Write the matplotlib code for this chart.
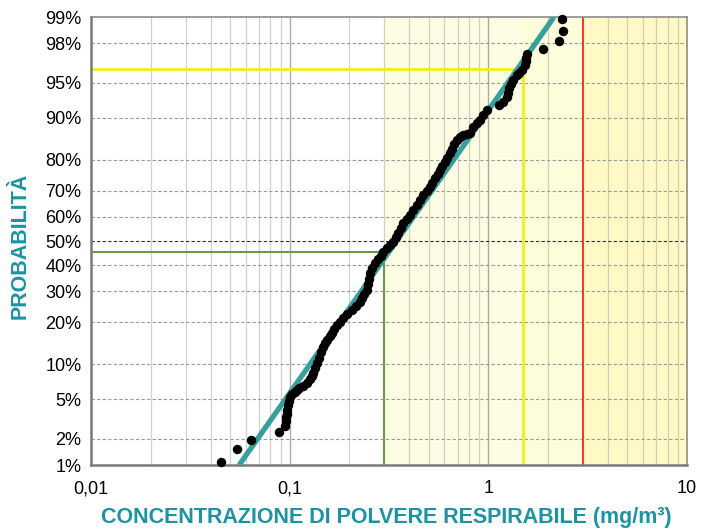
import numpy as np
import matplotlib
matplotlib.use("Agg")
import matplotlib.pyplot as plt
from statistics import NormalDist

plt.rcParams["font.family"] = ["Liberation Sans", "DejaVu Sans"]

# ---------------- data ----------------
x_ticks = [0.01, 0.1, 1, 10]
x_tick_labels = ["0,01", "0,1", "1", "10"]
p_ticks = [1, 2, 5, 10, 20, 30, 40, 50, 60, 70, 80, 90, 95, 98, 99]
p_tick_labels = [f"{p}%" for p in p_ticks]

# measured concentrations (mg/m3) and cumulative probability (%)
conc = [0.0451, 0.0541, 0.0639, 0.0880, 0.0947,
        0.0955, 0.0962, 0.0969, 0.0975, 0.0980, 0.0990, 0.1003,
        0.1030, 0.1060, 0.1084, 0.1120, 0.1165, 0.1218, 0.1260, 0.1290,
        0.1315, 0.1340, 0.1368, 0.1400, 0.1430, 0.1476, 0.1510, 0.1550,
        0.1590, 0.1627, 0.1675, 0.1724, 0.1790, 0.1861, 0.1950, 0.2051,
        0.2150, 0.2259, 0.2320, 0.2380, 0.2441, 0.2475, 0.2505, 0.2536,
        0.2610, 0.2687, 0.2780, 0.2870, 0.2959, 0.3080, 0.3200, 0.3322,
        0.3420, 0.3520, 0.3620, 0.3730, 0.3880, 0.4050, 0.4200, 0.4360,
        0.4527, 0.4700, 0.4890, 0.5083, 0.5230, 0.5390, 0.5550, 0.5706,
        0.5870, 0.6050, 0.6220, 0.6408, 0.6570, 0.6750, 0.6928, 0.7200,
        0.7474, 0.7780, 0.8081, 0.8395, 0.8720, 0.9072, 0.9430, 0.9806,
        1.135, 1.180, 1.236, 1.255, 1.270, 1.300, 1.335, 1.393, 1.430,
        1.471, 1.528, 1.540, 1.546, 1.558,
        1.877, 2.258, 2.365, 2.354]
prob = [1.10, 1.53, 1.93, 2.37, 2.76,
        3.05, 3.35, 3.60, 3.95, 4.40, 4.85, 5.30,
        5.60, 5.85, 6.09, 6.35, 6.65, 6.97, 7.60, 8.00,
        8.47, 9.30, 10.2, 11.3, 12.4, 13.6, 14.5, 15.3,
        16.1, 16.9, 18.0, 19.15, 20.1, 21.1, 22.4, 23.7,
        25.0, 26.4, 27.8, 29.2, 30.5, 32.6, 34.7, 36.9,
        38.9, 40.8, 42.4, 44.0, 45.6, 47.0, 48.4, 49.7,
        51.5, 53.5, 55.4, 57.3, 59.0, 60.8, 62.7, 64.6,
        66.5, 68.2, 69.8, 71.4, 72.8, 74.2, 75.6, 77.0,
        78.3, 79.5, 80.7, 81.9, 83.1, 84.2, 85.3, 86.0,
        86.45, 86.6, 86.8, 88.2, 88.9, 89.55, 90.4, 91.3,
        92.06, 92.6, 93.26, 93.8, 94.39, 94.85, 95.27, 95.76, 95.95,
        96.21, 96.62, 96.90, 97.11, 97.39,
        97.67, 98.11, 98.54, 98.93]

# fitted log-normal line (end points)
fit_x = [0.0557, 2.14]
fit_p = [1, 99]

# reference values
green_x, green_p = 0.3, 45.3
yellow_x, yellow_p = 1.5, 96.3
red_x = 3.0

# ---------------- scale ----------------
_nd = NormalDist()
_ppf = np.vectorize(lambda v: _nd.inv_cdf(v), otypes=[float])
_cdf = np.vectorize(lambda v: _nd.cdf(v), otypes=[float])

def fwd(p):
    p = np.clip(np.asarray(p, dtype=float) / 100.0, 1e-9, 1 - 1e-9)
    return _ppf(p)

def inv(z):
    return _cdf(np.asarray(z, dtype=float)) * 100.0

fig = plt.figure(figsize=(7.01, 5.29), dpi=100)
ax = fig.add_axes([91/701, 64/529, 596/701, 448/529])
ax.set_xscale("log")
ax.set_yscale("function", functions=(fwd, inv))
ax.set_xlim(0.01, 10)
ax.set_ylim(1, 99)

# shaded zones
ax.axvspan(0.3, 1.5, color="#FDFDE4", zorder=0, lw=0)
ax.axvspan(1.5, 3.0, color="#FEFDDA", zorder=0, lw=0)
ax.axvspan(3.0, 10, color="#FFF9C6", zorder=0, lw=0)

# vertical grid
for dec in [0.01, 0.1, 1]:
    for k in range(1, 10):
        v = dec * k
        if v <= 0.01 or v >= 10:
            continue
        if k == 1:
            ax.axvline(v, color="#8a8a8a", lw=1.0, alpha=0.7, zorder=1)
        else:
            ax.axvline(v, color="#9a9a9a", lw=0.9, alpha=0.45, zorder=1)

# horizontal dashed grid
for p in p_ticks[1:-1]:
    if p == 50:
        ax.axhline(p, color="#303030", lw=0.8, ls=(0, (3, 2)), zorder=1)
    else:
        ax.axhline(p, color="#9a9a9a", lw=0.8, ls=(0, (3, 2)), zorder=1)

# reference lines
ax.plot([0.01, green_x], [green_p, green_p], color="#6E9A45", lw=1.5, zorder=2)
ax.plot([green_x, green_x], [1, green_p], color="#6E9A45", lw=1.5, zorder=2)
ax.plot([0.01, yellow_x], [yellow_p, yellow_p], color="#F2EE1C", lw=2, zorder=2)
ax.plot([yellow_x, yellow_x], [1, yellow_p], color="#F2EE1C", lw=2, zorder=2)
ax.axvline(red_x, color="#E8402F", lw=1.5, zorder=2)

# fit line
ax.plot(fit_x, fit_p, color="#36A09E", lw=3.8, solid_capstyle="butt", zorder=3)

# data points
ax.plot(conc, prob, "o", color="black", ms=6.8, mew=0, zorder=4, clip_on=False)

# ticks
ax.set_xticks(x_ticks)
ax.set_xticklabels(x_tick_labels)
ax.xaxis.set_minor_locator(matplotlib.ticker.NullLocator())
ax.set_yticks(p_ticks)
ax.set_yticklabels(p_tick_labels)
ax.yaxis.set_minor_locator(matplotlib.ticker.NullLocator())
ax.tick_params(axis="x", length=0, pad=11, labelsize=13)
ax.tick_params(axis="y", length=0, pad=7, labelsize=13)

for s in ax.spines.values():
    s.set_color("#8c8c8c")
    s.set_linewidth(1.2)
for s in ["left", "bottom"]:
    ax.spines[s].set_linewidth(1.8)
    ax.spines[s].set_color("#7a7a7a")

teal = "#1B93A3"
fig.text(386/701, 1 - 517.5/529, "CONCENTRAZIONE DI POLVERE RESPIRABILE (mg/m³)",
         ha="center", va="center", fontsize=15.5, fontweight="bold", color=teal)
fig.text(20.5/701, 1 - 246/529, "PROBABILITÀ", rotation=90, ha="center", va="center",
         fontsize=15.5, fontweight="bold", color=teal)

fig.savefig("out.png", dpi=100)
